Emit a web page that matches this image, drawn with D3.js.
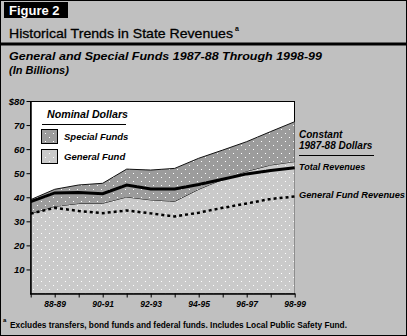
<!DOCTYPE html>
<html>
<head>
<meta charset="utf-8">
<script src="https://cdn.jsdelivr.net/npm/d3@7"></script>
<style>
  body { margin: 0; background: #c0c0c0; }
  svg { display: block; font-family: "Liberation Sans", Arial, sans-serif; }
  .bi { font-weight: bold; font-style: italic; }
</style>
</head>
<body>
<svg></svg>
<script>
 // fiscal years and values (billions)
 let years = ['87-88', '88-89', '89-90', '90-91', '91-92', '92-93', '93-94', '94-95', '95-96', '96-97', '97-98', '98-99'];
 let generalFund = [33.2, 36.2, 37.4, 37.5, 40.1, 38.9, 38.3, 43.3, 47.4, 50.8, 53.4, 54.8];
 let specialFunds = [5.8, 7.1, 7.7, 8.3, 11.6, 12.4, 13.7, 12.9, 12.2, 12.3, 13.9, 16.6];
 let totalConstant = [38.2, 41.8, 42.0, 41.5, 45.1, 43.4, 43.4, 45.3, 47.5, 49.7, 51.1, 52.3];
 let generalConstant = [33.2, 35.6, 34.3, 33.4, 34.5, 33.3, 32.0, 33.6, 35.6, 37.4, 39.3, 40.3];
 let yTicks = [10, 20, 30, 40, 50, 60, 70, 80];
 let labelYears = ['88-89', '90-91', '92-93', '94-95', '96-97', '98-99'];

 let width = 407;
 let height = 336;

 let svg = d3.select('svg');
 let xScale;
 let yScale;

 let drawChart = () => {
  svg.attr('width', width)
      .attr('height', height)

  svg.append('rect')
      .attr('x', 0.5).attr('y', 0.5)
      .attr('width', width - 1).attr('height', height - 1)
      .attr('fill', '#c0c0c0')
      .attr('stroke', '#000')

  // dotted fills
  let defs = svg.append('defs')
  let makePattern = (id, color) => {
      let p = defs.append('pattern')
          .attr('id', id)
          .attr('patternUnits', 'userSpaceOnUse')
          .attr('width', 8).attr('height', 8)
      p.append('rect').attr('width', 8).attr('height', 8).attr('fill', color)
      p.append('rect').attr('x', 1).attr('y', 1).attr('width', 1).attr('height', 1).attr('fill', '#fff')
      p.append('rect').attr('x', 5).attr('y', 5).attr('width', 1).attr('height', 1).attr('fill', '#fff')
  }
  makePattern('dotsSpecial', '#9c9c9c')
  makePattern('dotsGeneral', '#cacaca')
 }

 let drawTitles = () => {
  svg.append('rect')
      .attr('x', 4).attr('y', 2)
      .attr('width', 64).attr('height', 16)
      .attr('fill', '#000')
  svg.append('text')
      .attr('x', 9).attr('y', 15)
      .attr('fill', '#fff')
      .attr('font-weight', 'bold')
      .attr('font-size', 13)
      .text('Figure 2')

  svg.append('text')
      .attr('x', 9).attr('y', 38)
      .attr('font-size', 13.5)
      .attr('stroke', '#000')
      .attr('stroke-width', 0.3)
      .attr('textLength', 224)
      .attr('lengthAdjust', 'spacingAndGlyphs')
      .text('Historical Trends in State Revenues')
  svg.append('text')
      .attr('x', 235).attr('y', 31)
      .attr('font-size', 7)
      .attr('font-weight', 'bold')
      .text('a')

  svg.append('rect')
      .attr('x', 0).attr('y', 42.5)
      .attr('width', width).attr('height', 3)
      .attr('fill', '#000')

  svg.append('text')
      .attr('class', 'bi')
      .attr('x', 9).attr('y', 60)
      .attr('font-size', 11)
      .attr('textLength', 313)
      .attr('lengthAdjust', 'spacingAndGlyphs')
      .text('General and Special Funds 1987-88 Through 1998-99')
  svg.append('text')
      .attr('class', 'bi')
      .attr('x', 9).attr('y', 74)
      .attr('font-size', 11)
      .text('(In Billions)')
 }

 let generateScales = () => {
  xScale = d3.scalePoint()
              .domain(years)
              .range([30.7, 294.7])
  yScale = d3.scaleLinear()
              .domain([0, 80])
              .range([293.5, 101])
 }

 let drawAreas = () => {
  svg.append('rect')
      .attr('x', 30.5).attr('y', 101.5)
      .attr('width', 264).attr('height', 192)
      .attr('fill', '#fff')
      .attr('stroke', '#000')

  let table = years.map((yr, i) => ({ year: yr, general: generalFund[i], special: specialFunds[i] }))
  let stacked = d3.stack().keys(['general', 'special'])(table)

  let area = d3.area()
      .x(d => xScale(d.data.year))
      .y0(d => yScale(d[0]))
      .y1(d => yScale(d[1]))
  let topLine = d3.line()
      .x(d => xScale(d.data.year))
      .y(d => yScale(d[1]))

  let fills = { general: 'url(#dotsGeneral)', special: 'url(#dotsSpecial)' }
  stacked.forEach(layer => {
      svg.append('path')
          .datum(layer)
          .attr('d', area)
          .attr('fill', fills[layer.key])
      svg.append('path')
          .datum(layer)
          .attr('d', topLine)
          .attr('fill', 'none')
          .attr('stroke', '#111')
          .attr('stroke-width', 1)
  })

  let line = d3.line()
      .x((d, i) => xScale(years[i]))
      .y(d => yScale(d))

  svg.append('path')
      .datum(generalConstant)
      .attr('d', line)
      .attr('fill', 'none')
      .attr('stroke', '#000')
      .attr('stroke-width', 2.5)
      .attr('stroke-dasharray', '3,3')

  svg.append('path')
      .datum(totalConstant)
      .attr('d', line)
      .attr('fill', 'none')
      .attr('stroke', '#000')
      .attr('stroke-width', 3)
 }

 let generateAxes = () => {
  let xAxis = d3.axisBottom(xScale)
      .tickSize(4)
      .tickSizeOuter(0)
      .tickFormat(d => labelYears.includes(d) ? d : '')

  let gx = svg.append('g')
      .attr('id', 'x-axis')
      .attr('transform', 'translate(0, 293.5)')
      .call(xAxis)
  gx.selectAll('text')
      .attr('class', 'bi')
      .attr('font-size', 8.5)
      .attr('fill', '#000')
  gx.select('.domain').attr('d', 'M30,0.5H295.2').attr('stroke-width', 1.5)

  let yAxis = d3.axisLeft(yScale)
      .tickValues(yTicks)
      .tickSize(4)
      .tickPadding(2)
      .tickSizeOuter(0)
      .tickFormat(d => d === 80 ? '$80' : d)

  let gy = svg.append('g')
      .attr('id', 'y-axis')
      .attr('transform', 'translate(30.5, 0)')
      .call(yAxis)
  gy.selectAll('text')
      .attr('class', 'bi')
      .attr('font-size', 9.5)
      .attr('fill', '#000')
  gy.select('.domain').attr('stroke-width', 1.5)
 }

 let drawLegend = () => {
  svg.append('text')
      .attr('class', 'bi')
      .attr('x', 47).attr('y', 118)
      .attr('font-size', 10)
      .attr('textLength', 81)
      .attr('lengthAdjust', 'spacingAndGlyphs')
      .text('Nominal Dollars')
  svg.append('line')
      .attr('x1', 42).attr('x2', 126)
      .attr('y1', 124.5).attr('y2', 124.5)
      .attr('stroke', '#000')

  let items = [
      { label: 'Special Funds', fill: 'url(#dotsSpecial)', y: 129 },
      { label: 'General Fund', fill: 'url(#dotsGeneral)', y: 149 }
  ]
  items.forEach(item => {
      svg.append('rect')
          .attr('x', 41.5).attr('y', item.y + 0.5)
          .attr('width', 16).attr('height', 14)
          .attr('fill', item.fill)
          .attr('stroke', '#000')
      svg.append('text')
          .attr('class', 'bi')
          .attr('x', 64).attr('y', item.y + 11)
          .attr('font-size', 9.5)
          .text(item.label)
  })

  // right side labels
  svg.append('text').attr('class', 'bi')
      .attr('x', 299).attr('y', 138)
      .attr('font-size', 10)
      .text('Constant')
  svg.append('text').attr('class', 'bi')
      .attr('x', 299).attr('y', 149)
      .attr('font-size', 10)
      .text('1987-88 Dollars')
  svg.append('line')
      .attr('x1', 299).attr('x2', 374)
      .attr('y1', 155.5).attr('y2', 155.5)
      .attr('stroke', '#000')
  svg.append('text').attr('class', 'bi')
      .attr('x', 299).attr('y', 170)
      .attr('font-size', 9)
      .text('Total Revenues')
  svg.append('text').attr('class', 'bi')
      .attr('x', 299).attr('y', 198)
      .attr('font-size', 9)
      .attr('textLength', 106)
      .attr('lengthAdjust', 'spacingAndGlyphs')
      .text('General Fund Revenues')
 }

 let drawFootnote = () => {
  svg.append('text')
      .attr('x', 3).attr('y', 322)
      .attr('font-size', 6)
      .attr('font-weight', 'bold')
      .text('a')
  svg.append('text')
      .attr('x', 10).attr('y', 328)
      .attr('font-size', 9)
      .attr('font-weight', 'bold')
      .attr('textLength', 337)
      .attr('lengthAdjust', 'spacingAndGlyphs')
      .text('Excludes transfers, bond funds and federal funds. Includes Local Public Safety Fund.')
 }

 drawChart()
 drawTitles()
 generateScales()
 drawAreas()
 generateAxes()
 drawLegend()
 drawFootnote()
</script>
</body>
</html>
